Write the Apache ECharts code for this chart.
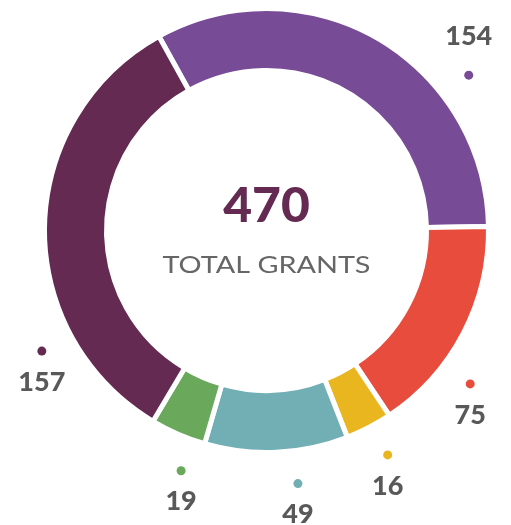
<!DOCTYPE html>
<html>
<head>
<meta charset="utf-8">
<script src="https://cdn.jsdelivr.net/npm/echarts@6/dist/echarts.min.js"></script>
<style>
  html, body { margin: 0; padding: 0; background: #fff; }
  #chart { width: 511px; height: 525px; }
</style>
</head>
<body>
<div id="chart"></div>
<script>
// slice values, clockwise from the top-left gap
const names = ['A', 'B', 'C', 'D', 'E', 'F'];
const values = [154, 75, 16, 49, 19, 157];
const colors = ['#784b96', '#e74c3c', '#e9b61f', '#72afb5', '#6aa95b', '#642a52'];
const totalLabel = 'TOTAL GRANTS';

// label placement tweaks (degrees off the slice middle), layout only
const labelNudge = [22.5, 9.3, -0.9, -4.5, -3.9, -29.1];
const cx = 266.5, cy = 230.5, labelR = 255, startAngle = 119;

const total = values.reduce((a, b) => a + b, 0);

const rich = {};
colors.forEach((c, i) => {
  rich['d' + i] = { width: 9, height: 9, borderRadius: 4.5, backgroundColor: c, lineHeight: 22 };
  rich['u' + i] = { width: 9, height: 9, borderRadius: 4.5, backgroundColor: c, lineHeight: 38 };
});
rich.v = { fontFamily: 'Lato', fontWeight: 900, fontSize: 27, color: '#595959', lineHeight: 40 };

function dotPos(i) {
  let cum = 0;
  for (let k = 0; k < i; k++) cum += values[k];
  const a = (-(startAngle - 90) + (cum + values[i] / 2) / total * 360 + labelNudge[i]) * Math.PI / 180;
  return [cx + labelR * Math.sin(a), cy - labelR * Math.cos(a)];
}

const chart = echarts.init(document.getElementById('chart'));
chart.setOption({
  animation: false,
  graphic: [
    {
      type: 'text',
      x: cx, y: 207, scaleX: 1.06,
      style: { text: String(total), x: 0, y: 0, align: 'center', verticalAlign: 'middle',
        fill: '#642a52', font: '900 47px Lato' }
    },
    {
      type: 'text',
      x: cx, y: 265, scaleX: 1.2,
      style: { text: totalLabel, x: 0, y: 0, align: 'center', verticalAlign: 'middle',
        fill: '#666', font: '24px Lato' }
    }
  ],
  series: [{
    type: 'pie',
    center: [cx, cy],
    radius: [160, 222],
    startAngle: startAngle,
    clockwise: true,
    avoidLabelOverlap: false,
    itemStyle: { borderColor: '#fff', borderWidth: 5 },
    labelLine: { show: false },
    label: {
      show: true,
      position: 'outside',
      formatter: p => p.dataIndex === 0
        ? '{v|' + p.value + '}\n{u0| }'
        : '{d' + p.dataIndex + '| }\n{v|' + p.value + '}',
      rich: rich
    },
    labelLayout: p => {
      const [x, y] = dotPos(p.dataIndex);
      return { x: x, y: p.dataIndex === 0 ? y - 59 : y - 11, align: 'center', verticalAlign: 'top' };
    },
    data: values.map((v, i) => ({ name: names[i], value: v, itemStyle: { color: colors[i] } }))
  }]
});
</script>
</body>
</html>
